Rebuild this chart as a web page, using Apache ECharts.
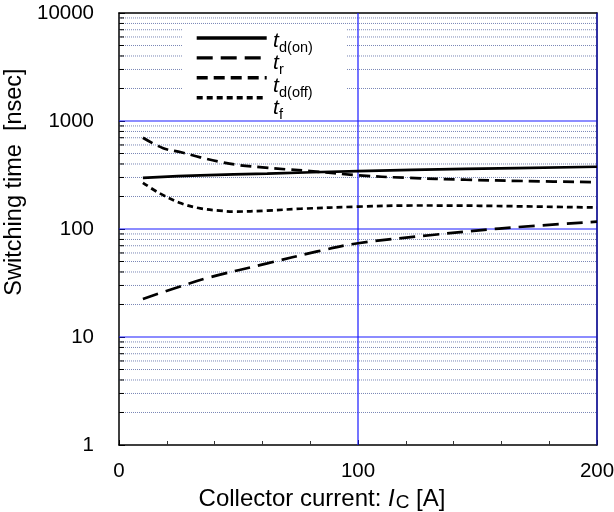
<!DOCTYPE html>
<html><head><meta charset="utf-8">
<script src="https://cdn.jsdelivr.net/npm/echarts@6/dist/echarts.min.js"></script>
<style>html,body{margin:0;padding:0;background:#fff}#c{width:614px;height:512px}</style>
</head><body><div id="c"></div>
<script>
// ---- data ----
var tdOnX = [10, 34, 62, 100, 145, 200];
var tdOnY = [298, 314, 326, 344, 360, 377];
var trX = [10, 24, 38, 62, 83, 100, 131, 159, 200];
var trY = [22.5, 28.6, 35.7, 48, 62, 73.8, 88, 101, 117];
var tdOffX = [10, 18.5, 26, 34, 42, 50, 60, 70, 80, 100, 120, 145, 170, 200];
var tdOffY = [700, 560, 513, 461, 420, 391, 372, 357, 344, 314, 298, 286, 278, 271];
var tfX = [10, 17, 26, 34, 42, 48, 62, 76, 100, 123, 151, 200];
var tfY = [268, 214, 173, 155, 148, 145, 148, 154, 161, 165, 164, 158];
var xRange = [0, 200];
var yRange = [1, 10000];
var yMajorTicks = [10, 100, 1000];
var xMajorTicks = [100, 200];
var yMinorTicks = [2,3,4,5,6,7,8,9,20,30,40,50,60,70,80,90,200,300,400,500,600,700,800,900,2000,3000,4000,5000,6000,7000,8000,9000];
var seriesNames = ['td(on)', 'tr', 'td(off)', 'tf'];
var seriesSubs = ['d(on)', 'r', 'd(off)', 'f'];

function zip(xs, ys) { return xs.map(function (x, i) { return [x, ys[i]]; }); }

var FONT = 'Arial, "Liberation Sans", sans-serif';
var chart = echarts.init(document.getElementById('c'), null, {renderer: 'canvas'});

var dashes = [null, [16, 8], [11, 6], [6, 4]];
var dataSets = [zip(tdOnX, tdOnY), zip(trX, trY), zip(tdOffX, tdOffY), zip(tfX, tfY)];

var series = seriesNames.map(function (n, i) {
  return {
    name: n, type: 'line', data: dataSets[i], smooth: 0.35, symbol: 'none',
    lineStyle: {color: '#000', width: 2.7, type: dashes[i] || 'solid'},
    itemStyle: {color: '#000'}, z: 5
  };
});

// horizontal grid lines (minor dotted, major solid) and left minor ticks
series.push({
  name: 'hGrid', type: 'custom', silent: true, z: 1, clip: false,
  data: yMinorTicks.map(function (v) { return [v, 0]; })
    .concat(yMajorTicks.map(function (v) { return [v, 1]; })),
  encode: {y: 0},
  renderItem: function (params, api) {
    var v = api.value(0), major = api.value(1) === 1;
    var a = api.coord([xRange[0], v]);
    var b = api.coord([xRange[1], v]);
    var children = [{type: 'line', shape: {x1: a[0], y1: a[1], x2: b[0], y2: b[1]},
      style: major ? {stroke: '#1a1aff', lineWidth: 1.2}
                   : {stroke: '#7a87b6', lineWidth: 1, lineDash: [1, 1]}}];
    if (!major) {
      children.push({type: 'line', shape: {x1: a[0], y1: a[1], x2: a[0] + 5, y2: a[1]},
        style: {stroke: '#000', lineWidth: 1}});
    }
    return {type: 'group', children: children};
  }
});

// vertical major grid lines
series.push({
  name: 'vGrid', type: 'custom', silent: true, z: 2, clip: false,
  data: xMajorTicks.map(function (v) { return [v]; }),
  encode: {x: 0},
  renderItem: function (params, api) {
    var v = api.value(0);
    var a = api.coord([v, yRange[0]]);
    var b = api.coord([v, yRange[1]]);
    return {type: 'line', shape: {x1: a[0], y1: a[1], x2: b[0], y2: b[1]},
      style: {stroke: v === xRange[1] ? '#1a1a9a' : '#1a1aff', lineWidth: 1.2}};
  }
});

// legend label texts (t + subscript), placed next to the legend keys
var labelCenters = [41, 63, 86, 108];
var graphics = [];
seriesSubs.forEach(function (s, i) {
  graphics.push({type: 'text', z: 100, x: 273, y: labelCenters[i],
    style: {text: 't', font: 'italic 21px ' + FONT, fill: '#000', verticalAlign: 'middle', align: 'left'}});
  graphics.push({type: 'text', z: 100, x: 279, y: labelCenters[i] + 7,
    style: {text: s, font: '14.5px ' + FONT, fill: '#000', verticalAlign: 'middle', align: 'left'}});
});

chart.setOption({
  animation: false,
  textStyle: {fontFamily: FONT},
  grid: {left: 119, right: 17, top: 13, bottom: 67, show: false, outerBoundsMode: 'none', containLabel: false},
  legend: {
    data: seriesNames, orient: 'vertical', left: 183, top: 25,
    padding: [6, 78, 8, 12], backgroundColor: '#fff',
    itemWidth: 70, itemHeight: 14, itemGap: 7.3,
    selectedMode: false,
    itemStyle: {opacity: 0},
    lineStyle: {width: 3.4},
    formatter: function () { return ''; }
  },
  graphic: graphics,
  xAxis: [{
    type: 'value', min: xRange[0], max: xRange[1], interval: 100, position: 'bottom',
    name: '{n|Collector current: }{i|I}{s|C}{n| [A]}',
    nameLocation: 'middle', nameGap: 36,
    nameTextStyle: {padding: [0, 72, 0, 0], rich: {
      n: {fontSize: 24, fontFamily: FONT, color: '#000'},
      i: {fontSize: 24, fontFamily: FONT, fontStyle: 'italic', color: '#000'},
      s: {fontSize: 19, fontFamily: FONT, color: '#000', padding: [8, 0, 0, 1]}
    }},
    axisLine: {onZero: false, lineStyle: {color: '#000', width: 1.5}},
    axisTick: {inside: true, length: 5, lineStyle: {color: '#000'}},
    minorTick: {show: true, splitNumber: 5, length: 4, lineStyle: {color: '#333'}},
    splitLine: {show: false},
    axisLabel: {fontSize: 20.5, color: '#000', margin: 16, fontFamily: FONT}
  }, {
    type: 'value', min: xRange[0], max: xRange[1], interval: 100, position: 'top',
    axisLine: {onZero: false, lineStyle: {color: '#000', width: 1.5}},
    axisTick: {show: false}, axisLabel: {show: false}, splitLine: {show: false}
  }],
  yAxis: [{
    type: 'log', logBase: 10, min: yRange[0], max: yRange[1], position: 'left',
    name: 'Switching time  [nsec]', nameLocation: 'middle', nameGap: 81,
    nameTextStyle: {fontSize: 23.5, color: '#000', fontFamily: FONT, padding: [0, 0, 0, 94]},
    axisLine: {onZero: false, lineStyle: {color: '#000', width: 1.5}},
    axisTick: {inside: true, length: 6, lineStyle: {color: '#000'}},
    splitLine: {show: false},
    axisLabel: {fontSize: 20.5, color: '#000', margin: 25, fontFamily: FONT,
      formatter: function (v) { return String(v); }}
  }, {
    type: 'log', logBase: 10, min: yRange[0], max: yRange[1], position: 'right',
    axisLine: {onZero: false, lineStyle: {color: '#1a1a90', width: 1.5}},
    axisTick: {show: false}, axisLabel: {show: false}, splitLine: {show: false}
  }],
  series: series
});
</script></body></html>
